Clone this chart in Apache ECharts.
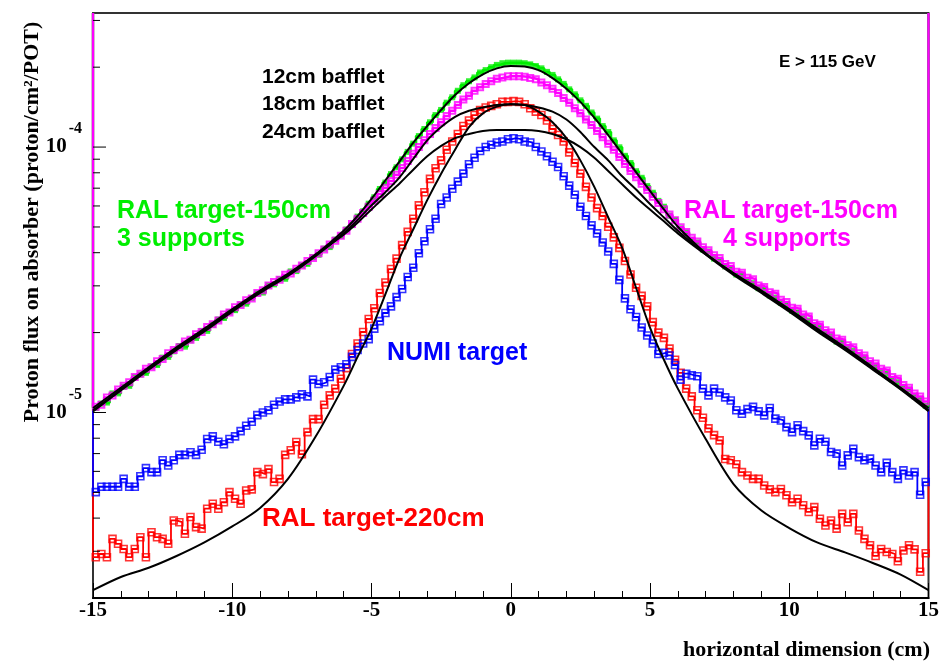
<!DOCTYPE html>
<html>
<head>
<meta charset="utf-8">
<script src="https://cdn.jsdelivr.net/npm/echarts@6/dist/echarts.min.js"></script>
<style>
  html, body { margin: 0; padding: 0; background: #ffffff; }
  #chart { width: 942px; height: 661px; }
</style>
</head>
<body>
<div id="chart"></div>
<script>
// Histogram binning along the horizontal dimension (cm)
const binStart = -15;
const binWidth = 0.2;

// Proton flux on absorber per bin (proton/cm^2/POT)
const ral150ThreeSupports = [
  1.04e-5, 1.08e-5, 1.09e-5, 1.18e-5, 1.18e-5, 1.25e-5, 1.26e-5, 1.36e-5, 1.39e-5, 1.41e-5,
  1.49e-5, 1.51e-5, 1.61e-5, 1.62e-5, 1.70e-5, 1.78e-5, 1.77e-5, 1.87e-5, 1.91e-5, 2.03e-5,
  2.03e-5, 2.14e-5, 2.24e-5, 2.27e-5, 2.39e-5, 2.43e-5, 2.55e-5, 2.57e-5, 2.70e-5, 2.81e-5,
  2.83e-5, 3.01e-5, 3.04e-5, 3.18e-5, 3.19e-5, 3.40e-5, 3.41e-5, 3.58e-5, 3.63e-5, 3.85e-5,
  3.93e-5, 4.14e-5, 4.20e-5, 4.48e-5, 4.63e-5, 4.89e-5, 5.08e-5, 5.47e-5, 5.73e-5, 6.12e-5,
  6.47e-5, 6.95e-5, 7.35e-5, 7.91e-5, 8.39e-5, 8.99e-5, 9.59e-5, 1.03e-4, 1.10e-4, 1.17e-4,
  1.24e-4, 1.32e-4, 1.38e-4, 1.47e-4, 1.54e-4, 1.63e-4, 1.71e-4, 1.77e-4, 1.83e-4, 1.91e-4,
  1.95e-4, 2.00e-4, 2.04e-4, 2.07e-4, 2.08e-4, 2.08e-4, 2.08e-4, 2.07e-4, 2.05e-4, 2.02e-4,
  1.98e-4, 1.92e-4, 1.87e-4, 1.80e-4, 1.73e-4, 1.65e-4, 1.58e-4, 1.50e-4, 1.43e-4, 1.35e-4,
  1.28e-4, 1.20e-4, 1.14e-4, 1.06e-4, 9.98e-5, 9.27e-5, 8.71e-5, 8.11e-5, 7.66e-5, 7.13e-5,
  6.73e-5, 6.27e-5, 5.96e-5, 5.52e-5, 5.32e-5, 4.94e-5, 4.76e-5, 4.47e-5, 4.37e-5, 4.11e-5,
  4.04e-5, 3.80e-5, 3.76e-5, 3.55e-5, 3.50e-5, 3.31e-5, 3.30e-5, 3.15e-5, 3.07e-5, 2.94e-5,
  2.92e-5, 2.76e-5, 2.71e-5, 2.59e-5, 2.56e-5, 2.42e-5, 2.38e-5, 2.28e-5, 2.22e-5, 2.13e-5,
  2.09e-5, 1.99e-5, 1.94e-5, 1.85e-5, 1.84e-5, 1.75e-5, 1.71e-5, 1.63e-5, 1.61e-5, 1.53e-5,
  1.49e-5, 1.42e-5, 1.40e-5, 1.33e-5, 1.30e-5, 1.24e-5, 1.22e-5, 1.15e-5, 1.12e-5, 1.06e-5
];

const ral150FourSupports = [
  1.05e-5, 1.07e-5, 1.14e-5, 1.16e-5, 1.22e-5, 1.26e-5, 1.30e-5, 1.36e-5, 1.40e-5, 1.46e-5,
  1.48e-5, 1.56e-5, 1.59e-5, 1.67e-5, 1.72e-5, 1.76e-5, 1.85e-5, 1.88e-5, 1.97e-5, 2.01e-5,
  2.10e-5, 2.15e-5, 2.22e-5, 2.34e-5, 2.38e-5, 2.49e-5, 2.54e-5, 2.65e-5, 2.69e-5, 2.82e-5,
  2.89e-5, 3.01e-5, 3.10e-5, 3.16e-5, 3.30e-5, 3.34e-5, 3.48e-5, 3.58e-5, 3.72e-5, 3.82e-5,
  3.98e-5, 4.11e-5, 4.29e-5, 4.44e-5, 4.63e-5, 4.84e-5, 5.13e-5, 5.37e-5, 5.65e-5, 5.96e-5,
  6.28e-5, 6.65e-5, 7.03e-5, 7.45e-5, 7.87e-5, 8.34e-5, 8.87e-5, 9.44e-5, 1.00e-4, 1.06e-4,
  1.12e-4, 1.18e-4, 1.24e-4, 1.31e-4, 1.37e-4, 1.44e-4, 1.51e-4, 1.56e-4, 1.63e-4, 1.68e-4,
  1.73e-4, 1.77e-4, 1.81e-4, 1.83e-4, 1.85e-4, 1.85e-4, 1.85e-4, 1.84e-4, 1.82e-4, 1.80e-4,
  1.75e-4, 1.71e-4, 1.66e-4, 1.60e-4, 1.53e-4, 1.47e-4, 1.40e-4, 1.34e-4, 1.27e-4, 1.21e-4,
  1.15e-4, 1.09e-4, 1.03e-4, 9.77e-5, 9.18e-5, 8.63e-5, 8.13e-5, 7.69e-5, 7.28e-5, 6.89e-5,
  6.50e-5, 6.15e-5, 5.83e-5, 5.57e-5, 5.30e-5, 4.99e-5, 4.79e-5, 4.55e-5, 4.41e-5, 4.19e-5,
  4.09e-5, 3.91e-5, 3.82e-5, 3.63e-5, 3.56e-5, 3.39e-5, 3.36e-5, 3.22e-5, 3.18e-5, 3.01e-5,
  2.97e-5, 2.84e-5, 2.80e-5, 2.66e-5, 2.61e-5, 2.48e-5, 2.46e-5, 2.34e-5, 2.30e-5, 2.17e-5,
  2.14e-5, 2.04e-5, 2.00e-5, 1.90e-5, 1.88e-5, 1.79e-5, 1.76e-5, 1.67e-5, 1.64e-5, 1.56e-5,
  1.53e-5, 1.46e-5, 1.44e-5, 1.36e-5, 1.34e-5, 1.27e-5, 1.24e-5, 1.18e-5, 1.15e-5, 1.10e-5
];

const ral220 = [
  2.85e-6, 2.93e-6, 2.85e-6, 3.34e-6, 3.20e-6, 3.06e-6, 2.85e-6, 3.06e-6, 3.39e-6, 2.85e-6,
  3.54e-6, 3.39e-6, 3.34e-6, 3.20e-6, 3.92e-6, 3.86e-6, 3.49e-6, 4.04e-6, 3.70e-6, 3.65e-6,
  4.34e-6, 4.53e-6, 4.34e-6, 4.59e-6, 5.01e-6, 4.73e-6, 4.53e-6, 5.08e-6, 5.13e-6, 5.96e-6,
  5.86e-6, 6.12e-6, 5.47e-6, 5.62e-6, 6.92e-6, 7.21e-6, 7.74e-6, 6.97e-6, 8.43e-6, 9.44e-6,
  9.44e-6, 1.07e-5, 1.16e-5, 1.23e-5, 1.34e-5, 1.47e-5, 1.66e-5, 1.82e-5, 2.01e-5, 2.25e-5,
  2.47e-5, 2.82e-5, 3.09e-5, 3.47e-5, 3.80e-5, 4.27e-5, 4.79e-5, 5.37e-5, 6.03e-5, 6.76e-5,
  7.59e-5, 8.32e-5, 8.91e-5, 9.77e-5, 1.05e-4, 1.12e-4, 1.20e-4, 1.26e-4, 1.32e-4, 1.38e-4,
  1.41e-4, 1.43e-4, 1.45e-4, 1.48e-4, 1.48e-4, 1.49e-4, 1.48e-4, 1.45e-4, 1.40e-4, 1.36e-4,
  1.32e-4, 1.26e-4, 1.17e-4, 1.11e-4, 1.05e-4, 9.55e-5, 8.71e-5, 7.94e-5, 7.08e-5, 6.46e-5,
  5.89e-5, 5.50e-5, 5.01e-5, 4.57e-5, 4.17e-5, 3.72e-5, 3.31e-5, 2.95e-5, 2.75e-5, 2.51e-5,
  2.19e-5, 2.00e-5, 1.91e-5, 1.74e-5, 1.58e-5, 1.41e-5, 1.23e-5, 1.15e-5, 1.02e-5, 9.55e-6,
  8.71e-6, 8.22e-6, 7.85e-6, 6.68e-6, 6.61e-6, 6.38e-6, 5.96e-6, 5.79e-6, 5.62e-6, 5.62e-6,
  5.31e-6, 5.13e-6, 5.01e-6, 5.15e-6, 4.88e-6, 4.59e-6, 4.73e-6, 4.47e-6, 4.22e-6, 4.40e-6,
  3.98e-6, 3.75e-6, 3.92e-6, 3.65e-6, 4.15e-6, 3.86e-6, 4.15e-6, 3.59e-6, 3.34e-6, 3.16e-6,
  2.88e-6, 3.06e-6, 2.98e-6, 2.93e-6, 2.75e-6, 3.02e-6, 3.16e-6, 3.05e-6, 2.51e-6, 2.95e-6
];

const numi = [
  5.01e-6, 5.25e-6, 5.25e-6, 5.25e-6, 5.25e-6, 5.62e-6, 5.25e-6, 5.25e-6, 5.75e-6, 6.17e-6,
  5.96e-6, 5.96e-6, 6.61e-6, 6.31e-6, 6.61e-6, 6.92e-6, 6.92e-6, 7.08e-6, 6.92e-6, 7.24e-6,
  7.94e-6, 8.13e-6, 7.76e-6, 7.59e-6, 7.94e-6, 8.13e-6, 8.51e-6, 8.91e-6, 9.23e-6, 9.77e-6,
  1.00e-5, 1.02e-5, 1.07e-5, 1.10e-5, 1.12e-5, 1.12e-5, 1.14e-5, 1.17e-5, 1.15e-5, 1.33e-5,
  1.28e-5, 1.30e-5, 1.36e-5, 1.45e-5, 1.48e-5, 1.52e-5, 1.62e-5, 1.72e-5, 1.82e-5, 1.89e-5,
  2.07e-5, 2.21e-5, 2.37e-5, 2.51e-5, 2.72e-5, 2.92e-5, 3.24e-5, 3.51e-5, 3.98e-5, 4.42e-5,
  4.90e-5, 5.37e-5, 6.10e-5, 6.46e-5, 6.97e-5, 7.41e-5, 7.94e-5, 8.61e-5, 9.12e-5, 9.66e-5,
  1.00e-4, 1.02e-4, 1.04e-4, 1.05e-4, 1.07e-4, 1.08e-4, 1.07e-4, 1.05e-4, 1.04e-4, 1.00e-4,
  9.62e-5, 9.23e-5, 8.81e-5, 8.41e-5, 7.76e-5, 7.16e-5, 6.61e-5, 5.96e-5, 5.50e-5, 5.07e-5,
  4.73e-5, 4.37e-5, 4.04e-5, 3.63e-5, 3.16e-5, 2.69e-5, 2.45e-5, 2.29e-5, 2.09e-5, 1.95e-5,
  1.82e-5, 1.66e-5, 1.68e-5, 1.64e-5, 1.51e-5, 1.33e-5, 1.40e-5, 1.38e-5, 1.37e-5, 1.23e-5,
  1.16e-5, 1.23e-5, 1.19e-5, 1.14e-5, 1.11e-5, 1.02e-5, 9.89e-6, 1.03e-5, 1.05e-5, 1.01e-5,
  9.75e-6, 1.04e-5, 9.48e-6, 9.33e-6, 8.81e-6, 8.43e-6, 8.95e-6, 8.51e-6, 8.20e-6, 7.52e-6,
  7.96e-6, 7.76e-6, 7.10e-6, 7.00e-6, 6.31e-6, 6.89e-6, 7.29e-6, 6.79e-6, 6.61e-6, 6.70e-6,
  6.31e-6, 5.96e-6, 6.46e-6, 5.96e-6, 5.62e-6, 6.05e-6, 5.79e-6, 5.96e-6, 4.90e-6, 5.47e-6
];

// Smooth model curves, sampled along x (cm)
const curveX = [
  -15, -14, -13, -12, -11, -10, -9, -8, -7,
  -6, -5.5, -5, -4.5, -4, -3.5, -3, -2.5, -2, -1.5, -1, -0.5, 0,
  0.5, 1, 1.5, 2, 2.5, 3, 3.5, 4, 4.5, 5, 5.5, 6,
  7, 8, 9, 10, 11, 12, 13, 14, 15
];
const baffle12 = [
  1.02e-5, 1.22e-5, 1.46e-5, 1.74e-5, 2.04e-5, 2.43e-5, 2.85e-5, 3.31e-5, 3.94e-5,
  4.84e-5, 5.50e-5, 6.38e-5, 7.50e-5, 8.81e-5, 1.04e-4, 1.20e-4, 1.38e-4, 1.57e-4, 1.74e-4, 1.88e-4, 1.98e-4, 2.02e-4,
  2.01e-4, 1.95e-4, 1.82e-4, 1.66e-4, 1.48e-4, 1.29e-4, 1.11e-4, 9.44e-5, 8.04e-5, 6.84e-5, 5.82e-5, 5.01e-5,
  3.98e-5, 3.33e-5, 2.85e-5, 2.43e-5, 2.04e-5, 1.74e-5, 1.46e-5, 1.23e-5, 1.02e-5
];
const baffle18 = [
  1.01e-5, 1.21e-5, 1.45e-5, 1.72e-5, 2.02e-5, 2.40e-5, 2.82e-5, 3.27e-5, 3.89e-5,
  4.73e-5, 5.31e-5, 6.03e-5, 6.76e-5, 7.67e-5, 9.02e-5, 1.06e-4, 1.19e-4, 1.30e-4, 1.37e-4, 1.41e-4, 1.44e-4, 1.45e-4,
  1.44e-4, 1.41e-4, 1.36e-4, 1.27e-4, 1.14e-4, 1.00e-4, 8.91e-5, 7.76e-5, 6.92e-5, 6.10e-5, 5.43e-5, 4.84e-5,
  3.94e-5, 3.30e-5, 2.82e-5, 2.40e-5, 2.02e-5, 1.72e-5, 1.45e-5, 1.22e-5, 1.01e-5
];
const baffle24 = [
  1.04e-5, 1.24e-5, 1.48e-5, 1.76e-5, 2.07e-5, 2.45e-5, 2.88e-5, 3.33e-5, 3.94e-5,
  4.68e-5, 5.19e-5, 5.82e-5, 6.53e-5, 7.28e-5, 8.22e-5, 9.23e-5, 1.01e-4, 1.08e-4, 1.12e-4, 1.15e-4, 1.16e-4, 1.16e-4,
  1.16e-4, 1.15e-4, 1.12e-4, 1.07e-4, 1.00e-4, 9.12e-5, 8.13e-5, 7.24e-5, 6.46e-5, 5.82e-5, 5.25e-5, 4.73e-5,
  3.94e-5, 3.35e-5, 2.88e-5, 2.45e-5, 2.07e-5, 1.76e-5, 1.48e-5, 1.24e-5, 1.04e-5
];
const ral220Curve = [
  2.14e-6, 2.40e-6, 2.60e-6, 2.88e-6, 3.24e-6, 3.72e-6, 4.37e-6, 5.62e-6, 8.13e-6,
  1.26e-5, 1.62e-5, 2.07e-5, 2.79e-5, 3.80e-5, 4.90e-5, 6.31e-5, 7.94e-5, 9.77e-5, 1.19e-4, 1.34e-4, 1.42e-4, 1.45e-4,
  1.44e-4, 1.36e-4, 1.24e-4, 1.08e-4, 8.91e-5, 7.08e-5, 5.43e-5, 4.17e-5, 2.95e-5, 2.09e-5, 1.58e-5, 1.23e-5,
  7.94e-6, 5.37e-6, 4.27e-6, 3.67e-6, 3.24e-6, 2.97e-6, 2.71e-6, 2.45e-6, 2.14e-6
];

// Axis ranges
const xMin = -15, xMax = 15, xStep = 5;
const yMin = 2e-6, yMax = 3.2e-4;

// Text annotations
const energyCut = 'E > 115 GeV';
const baffleLabels = ['12cm bafflet', '18cm bafflet', '24cm bafflet'];
const threeSupportLabel = ['RAL target-150cm', '3 supports'];
const fourSupportLabel = ['RAL target-150cm', '4 supports'];
const numiLabel = 'NUMI target';
const ral220Label = 'RAL target-220cm';
const yTitle = 'Proton flux on absorber (proton/cm\u00B2/POT)';
const xTitle = 'horizontal dimension (cm)';

const COLORS = { green: '#00ee00', magenta: '#ff00ff', red: '#ff0000', blue: '#0000ff', black: '#000000' };
const SANS = '"Liberation Sans", Arial, sans-serif';
const SERIF = '"Liberation Serif", "Times New Roman", serif';

// Histogram outline: vertical edge at each end rising to the top of the frame
function stepOutline(values) {
  const pts = [[binStart, yMax]];
  values.forEach((v, i) => {
    const x0 = binStart + i * binWidth;
    pts.push([x0, v], [x0 + binWidth, v]);
  });
  pts.push([binStart + values.length * binWidth, yMax]);
  return pts;
}
function binCenters(values) {
  return values.map((v, i) => [binStart + (i + 0.5) * binWidth, v]);
}
function curve(values) {
  return values.map((v, i) => [curveX[i], v]);
}

function histSeries(name, values, color, width, z) {
  return {
    name: name, type: 'line', data: stepOutline(values), showSymbol: false, clip: false,
    lineStyle: { color: color, width: width }, z: z, silent: true
  };
}
function markerSeries(name, values, color, filled, size, border, z) {
  return {
    name: name, type: 'scatter', data: binCenters(values), symbol: 'rect', symbolSize: size,
    itemStyle: filled ? { color: color } : { color: 'rgba(255,255,255,0)', borderColor: color, borderWidth: border },
    z: z, silent: true
  };
}
function curveSeries(name, values) {
  return {
    name: name, type: 'line', data: curve(values), showSymbol: false, smooth: 0.3,
    lineStyle: { color: COLORS.black, width: 2 }, z: 6, silent: true
  };
}

// Log-axis tick marks (major at decades, minor at 2..9)
const yTickMarks = [];
for (let d = -6; d <= -4; d++) {
  for (let k = 1; k <= 9; k++) {
    const v = k * Math.pow(10, d);
    if (v > yMin * 1.0001 && v < yMax * 0.9999) yTickMarks.push([xMin, v, k === 1 ? 1 : 0]);
  }
}

const chart = echarts.init(document.getElementById('chart'), null, { renderer: 'canvas' });

function textEl(text, x, y, font, color, align, extra) {
  return Object.assign({
    type: 'text', x: x, y: y, z: 50,
    style: { text: text, font: font, fill: color, textAlign: align, align: align, textVerticalAlign: 'middle', verticalAlign: 'middle' }
  }, extra || {});
}

const option = {
  animation: false,
  backgroundColor: '#ffffff',
  grid: { left: 93, right: 10, top: 13, bottom: 63, show: true, borderColor: '#333333', borderWidth: 2, backgroundColor: 'transparent' },
  xAxis: {
    type: 'value', min: xMin, max: xMax, interval: xStep,
    axisLine: { show: true, lineStyle: { color: '#000', width: 2 } },
    axisTick: { show: true, inside: true, length: 15, lineStyle: { color: '#000', width: 1 } },
    minorTick: { show: true, splitNumber: 5, length: 7, lineStyle: { color: '#000', width: 1 } },
    splitLine: { show: false },
    axisLabel: { color: '#000', fontFamily: SERIF, fontWeight: 'bold', fontSize: 21, margin: 2 }
  },
  yAxis: {
    type: 'log', logBase: 10, min: yMin, max: yMax,
    axisLine: { show: false }, axisTick: { show: false }, splitLine: { show: false },
    axisLabel: {
      margin: 11, showMinLabel: false, showMaxLabel: false,
      formatter: function (value) {
        const e = Math.log10(value);
        if (Math.abs(e - Math.round(e)) > 1e-6) return '';
        return '{b|10}{e|' + Math.round(e) + '}';
      },
      rich: {
        b: { fontFamily: SERIF, fontWeight: 'bold', fontSize: 21, color: '#000', lineHeight: 20 },
        e: { fontFamily: SERIF, fontWeight: 'bold', fontSize: 16, color: '#000', lineHeight: 16, padding: [0, 0, 36, 2] }
      }
    }
  },
  series: [
    histSeries('RAL target-220cm', ral220, COLORS.red, 1.8, 2),
    histSeries('NUMI target', numi, COLORS.blue, 1.8, 3),
    histSeries('RAL target-150cm 3 supports', ral150ThreeSupports, COLORS.green, 2.5, 4),
    histSeries('RAL target-150cm 4 supports', ral150FourSupports, COLORS.magenta, 2.5, 5),
    markerSeries('RAL target-220cm markers', ral220, COLORS.red, false, 7, 1.6, 2),
    markerSeries('NUMI target markers', numi, COLORS.blue, false, 7, 1.6, 3),
    markerSeries('3 supports markers', ral150ThreeSupports, COLORS.green, true, 6, 0, 4),
    markerSeries('4 supports markers', ral150FourSupports, COLORS.magenta, false, 6, 2, 5),
    curveSeries('12cm bafflet', baffle12),
    curveSeries('18cm bafflet', baffle18),
    curveSeries('24cm bafflet', baffle24),
    curveSeries('RAL target-220cm model', ral220Curve),
    {
      name: 'y ticks', type: 'custom', data: yTickMarks, silent: true, z: 7, clip: false,
      encode: { x: 0, y: 1 },
      renderItem: function (params, api) {
        const p = api.coord([api.value(0), api.value(1)]);
        const len = api.value(2) ? 13 : 7;
        return { type: 'line', shape: { x1: p[0], y1: p[1], x2: p[0] + len, y2: p[1] }, style: { stroke: '#000', lineWidth: 1 } };
      }
    }
  ],
  graphic: [
    textEl(energyCut, 779, 62, 'bold 17px ' + SANS, COLORS.black, 'left'),
    textEl(baffleLabels[0], 262, 77, 'bold 21px ' + SANS, COLORS.black, 'left'),
    textEl(baffleLabels[1], 262, 104, 'bold 21px ' + SANS, COLORS.black, 'left'),
    textEl(baffleLabels[2], 262, 132, 'bold 21px ' + SANS, COLORS.black, 'left'),
    textEl(threeSupportLabel[0], 117, 211, 'bold 25px ' + SANS, COLORS.green, 'left'),
    textEl(threeSupportLabel[1], 117, 239, 'bold 25px ' + SANS, COLORS.green, 'left'),
    textEl(fourSupportLabel[0], 791, 211, 'bold 25px ' + SANS, COLORS.magenta, 'center'),
    textEl(fourSupportLabel[1], 787, 239, 'bold 25px ' + SANS, COLORS.magenta, 'center'),
    textEl(numiLabel, 387, 353, 'bold 25px ' + SANS, COLORS.blue, 'left'),
    textEl(ral220Label, 262, 519, 'bold 26px ' + SANS, COLORS.red, 'left'),
    textEl(yTitle, 32, 222, 'bold 22px ' + SERIF, COLORS.black, 'center', { rotation: Math.PI / 2 }),
    textEl(xTitle, 930, 650, 'bold 22px ' + SERIF, COLORS.black, 'right')
  ]
};

chart.setOption(option);
</script>
</body>
</html>
